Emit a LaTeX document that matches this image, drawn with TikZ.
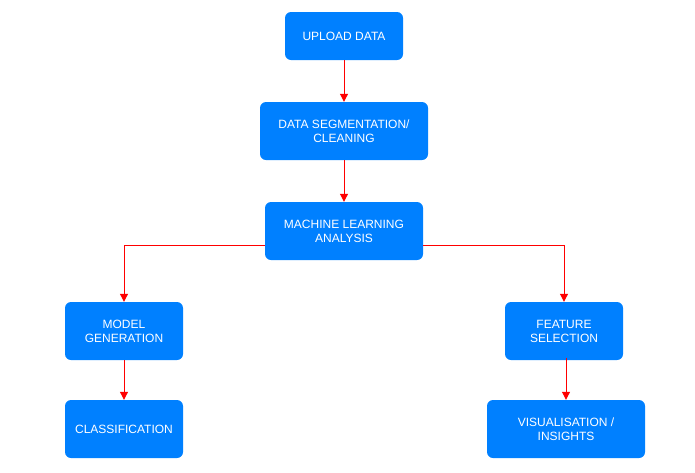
\documentclass[tikz,border=0pt]{standalone}
\usepackage{fontspec}
\setmainfont{Liberation Sans}
\usetikzlibrary{arrows.meta}
\definecolor{boxblue}{RGB}{0,128,255}
\begin{document}
\begin{tikzpicture}[x=1pt,y=-1pt,
  box/.style={draw=none,fill=boxblue,rounded corners=6pt,text=white,align=center,
    font=\fontsize{12}{14}\selectfont,inner sep=0pt},
  conn/.style={draw=red,line width=1pt,-{Triangle[length=8pt,width=8pt]}}]
\useasboundingbox (0,0) rectangle (695,472);
\node[box,minimum width=118pt,minimum height=48pt] (up) at (344,36) {UPLOAD DATA};
\node[box,minimum width=168pt,minimum height=58pt] (seg) at (344,131) {DATA SEGMENTATION/\\CLEANING};
\node[box,minimum width=158pt,minimum height=58pt] (ml) at (344,231) {MACHINE LEARNING\\ANALYSIS};
\node[box,minimum width=118pt,minimum height=58pt] (mg) at (124,331) {MODEL\\GENERATION};
\node[box,minimum width=118pt,minimum height=58pt] (cl) at (124,429) {CLASSIFICATION};
\node[box,minimum width=118pt,minimum height=58pt] (fs) at (564,331) {FEATURE\\SELECTION};
\node[box,minimum width=158pt,minimum height=58pt] (vi) at (566,429) {VISUALISATION /\\INSIGHTS};
\draw[conn] (up) -- (seg);
\draw[conn] (seg) -- (ml);
\draw[conn] (ml.west |- 0,245) -| (mg.north);
\draw[conn] (ml.east |- 0,245) -| (fs.north);
\draw[conn] (mg) -- (cl);
\draw[conn] (vi.north -| 566,0) ++(0,-42) -- (vi.north -| 566,0);
\end{tikzpicture}
\end{document}
